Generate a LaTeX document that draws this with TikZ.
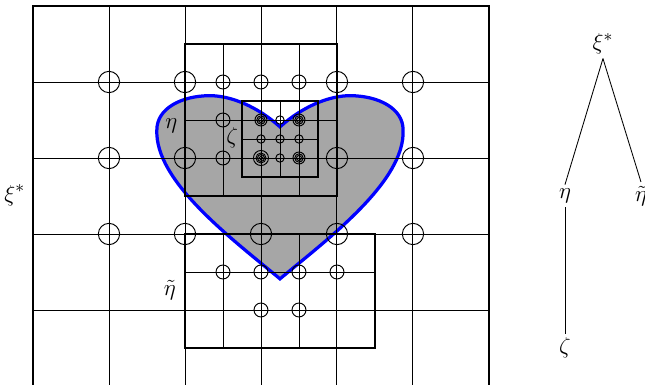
\documentclass[tikz,border=0pt]{standalone}
\begin{document}
\begin{tikzpicture}[
    x=1.4cm, y=1.4cm,
    gridline/.style={line width=0.5pt},
    cellbox/.style={line width=1.1pt},
    heart/.style={draw=blue, line width=1.7pt, fill=gray!70},
    ring/.style={line width=0.5pt},
    label/.style={inner sep=1pt, font=\fontsize{13}{15}\selectfont},
    treenode/.style={inner sep=2pt, font=\fontsize{13}{15}\selectfont},
    treeedge/.style={line width=0.45pt}
]
    \useasboundingbox (-0.434,1.026) rectangle (8.053,6.079);

    % Heart shaped region
    \draw[heart] (3.25,4.41)
        .. controls (2.95,4.68) and (2.6,4.82) .. (2.33,4.82)
        .. controls (1.95,4.82) and (1.63,4.65) .. (1.63,4.37)
        .. controls (1.6,3.7) and (2.6,2.95) .. (3.25,2.41)
        .. controls (3.9,2.95) and (4.9,3.7) .. (4.87,4.37)
        .. controls (4.87,4.65) and (4.55,4.82) .. (4.17,4.82)
        .. controls (3.9,4.82) and (3.55,4.68) .. (3.25,4.41) -- cycle;

    % Coarse mesh
    \draw[gridline] (0,0) grid[step=1] (6,6);
    \draw[cellbox, line width=1.4pt] (0,0) rectangle (6,6);

    % Refined patches
    \draw[gridline] (2,3.5) grid[step=0.5] (4,5.5);
    \draw[gridline] (2.75,3.75) grid[step=0.25] (3.75,4.75);
    \draw[gridline] (2,1.5) grid[step=0.5] (4.5,3);
    \draw[cellbox] (2,3.5) rectangle (4,5.5);
    \draw[cellbox] (2.75,3.75) rectangle (3.75,4.75);
    \draw[cellbox] (2,1.5) rectangle (4.5,3);

    % Nodes of the coarse level
    \foreach \x/\y in {1/5,2/5,4/5,5/5,1/4,2/4,4/4,5/4,1/3,2/3,3/3,4/3,5/3}
        \draw[ring] (\x,\y) circle[radius=0.14];
    % Nodes of the middle level
    \foreach \x/\y in {2.5/5,3/5,3.5/5,2.5/4.5,2.5/4,2.5/2.5,3/2.5,3.5/2.5,4/2.5,3/2,3.5/2}
        \draw[ring] (\x,\y) circle[radius=0.092];
    % Nodes of the fine level
    \foreach \x/\y in {3.25/4.5,3/4.25,3.25/4.25,3.5/4.25,3.25/4}
        \draw[ring] (\x,\y) circle[radius=0.055];
    \foreach \x/\y in {3/4.5,3.5/4.5,3.5/4}
        \foreach \r in {0.033,0.055,0.079}
            \draw[ring] (\x,\y) circle[radius=\r];
    \foreach \r in {0.026,0.046,0.066,0.099}
        \draw[ring] (3,4) circle[radius=\r];

    % Patch labels
    \node[label] (Lxi) at (-0.24,3.51) {$\xi^*$};
    \node[label] (Leta) at (1.82,4.43) {$\eta$};
    \node[label] (Lzeta) at (2.62,4.26) {$\zeta$};
    \node[label] (Ltil) at (1.8,2.26) {$\tilde\eta$};

    % Tree of patches
    \node[treenode] (T0) at (7.5,5.5) {$\xi^*$};
    \node[treenode] (T1) at (7,3.5) {$\eta$};
    \node[treenode] (T2) at (8,3.5) {$\tilde\eta$};
    \node[treenode] (T3) at (7,1.5) {$\zeta$};
    \draw[treeedge] (T0.south) -- (T1.north);
    \draw[treeedge] (T0.south) -- (T2.north);
    \draw[treeedge] (T1) -- (T3);
\end{tikzpicture}
\end{document}
